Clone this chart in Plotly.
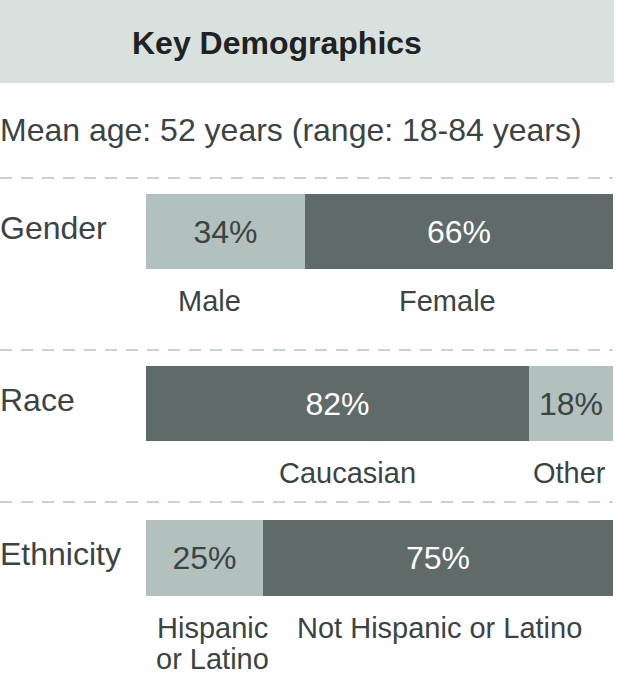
import plotly.graph_objects as go

# Dados do gráfico
rows = ['Gender', 'Race', 'Ethnicity']
first_labels = ['Male', 'Caucasian', 'Hispanic<br>or Latino']
first_values = [34, 82, 25]
second_labels = ['Female', 'Other', 'Not Hispanic or Latino']
second_values = [66, 18, 75]
title_text = 'Key Demographics'
age_text = 'Mean age: 52 years (range: 18-84 years)'

# Cores e medidas (pixels da imagem 617x676)
W, H = 617, 676
DARK = '#5e6b68'
LIGHT = '#b2c1bd'
TEXT = '#3b4443'
FONT = 'Liberation Sans, Arial, sans-serif'
bar_tops = [194, 366, 520]
bar_bottoms = [269, 441, 596]
dash_lines = [178, 350, 502]
# pequenos ajustes horizontais dos rótulos (px)
label_nudges = [(-16, -11), (10, -1), (8, 2)]
LINE_STEP = 31  # distância entre linhas dos rótulos com quebra


def py(px):
    return 1 - px / H


fig = go.Figure()
annotations = []
layout_axes = {}

for i, row in enumerate(rows):
    yname = 'y' if i == 0 else f'y{i + 1}'
    axname = 'yaxis' if i == 0 else f'yaxis{i + 1}'
    segs = [(first_labels[i], first_values[i]), (second_labels[i], second_values[i])]
    start = 0
    for j, (label, val) in enumerate(segs):
        dark = val >= 50
        fig.add_trace(go.Bar(
            x=[val], y=[row], orientation='h', xaxis='x', yaxis=yname, width=1,
            marker=dict(color=DARK if dark else LIGHT, line=dict(width=0)),
            text=[f'{val}%'], textposition='inside', insidetextanchor='middle', textangle=0,
            textfont=dict(family=FONT, size=32, color='white' if dark else TEXT),
            hoverinfo='skip', showlegend=False,
        ))
        # rótulo da categoria abaixo da barra (uma anotação por linha)
        for k, part in enumerate(label.split('<br>')):
            annotations.append(dict(
                x=start + val / 2, xref='x', y=0, yref=f'{yname} domain',
                text=part, showarrow=False, xanchor='center', yanchor='top',
                yshift=-14 - k * LINE_STEP, xshift=label_nudges[i][j],
                font=dict(family=FONT, size=29, color=TEXT),
            ))
        start += val
    # rótulo da linha
    annotations.append(dict(
        x=0, xref='paper', y=0.5, yref=f'{yname} domain', text=row, showarrow=False,
        xanchor='left', yanchor='middle', yshift=4, xshift=-2,
        font=dict(family=FONT, size=32, color=TEXT),
    ))
    layout_axes[axname] = dict(
        domain=[py(bar_bottoms[i]), py(bar_tops[i])], anchor='x', range=[-0.5, 0.5],
        visible=False, fixedrange=True,
    )

annotations.append(dict(
    x=277 / W, xref='paper', y=py(43), yref='paper', text=f'<b>{title_text}</b>', showarrow=False,
    xanchor='center', yanchor='middle', font=dict(family=FONT, size=32, color='#1e2222'),
))
annotations.append(dict(
    x=0, xref='paper', y=py(130), yref='paper', text=age_text, showarrow=False,
    xanchor='left', yanchor='middle', xshift=-2, font=dict(family=FONT, size=32, color=TEXT),
))

shapes = [dict(type='rect', xref='paper', yref='paper', x0=0, x1=614 / W, y0=py(83), y1=1,
               fillcolor='#d9e1df', line=dict(width=0), layer='below')]
for yl in dash_lines:
    shapes.append(dict(type='line', xref='paper', yref='paper', x0=0, x1=613 / W, y0=py(yl), y1=py(yl),
                       line=dict(color='#b7c3c0', width=1.5, dash='12px,9px')))

fig.update_layout(
    width=W, height=H, autosize=False,
    margin=dict(l=0, r=0, t=0, b=0),
    paper_bgcolor='white', plot_bgcolor='white',
    barmode='stack', bargap=0,
    xaxis=dict(domain=[146 / W, 613 / W], range=[0, 100], visible=False, fixedrange=True),
    annotations=annotations, shapes=shapes,
    **layout_axes,
)

# tira a margem padrão do body para a figura ocupar a janela toda
fig.write_html('out.html', config={'displayModeBar': False},
               post_script="document.body.style.margin='0';document.body.style.overflow='hidden';")
